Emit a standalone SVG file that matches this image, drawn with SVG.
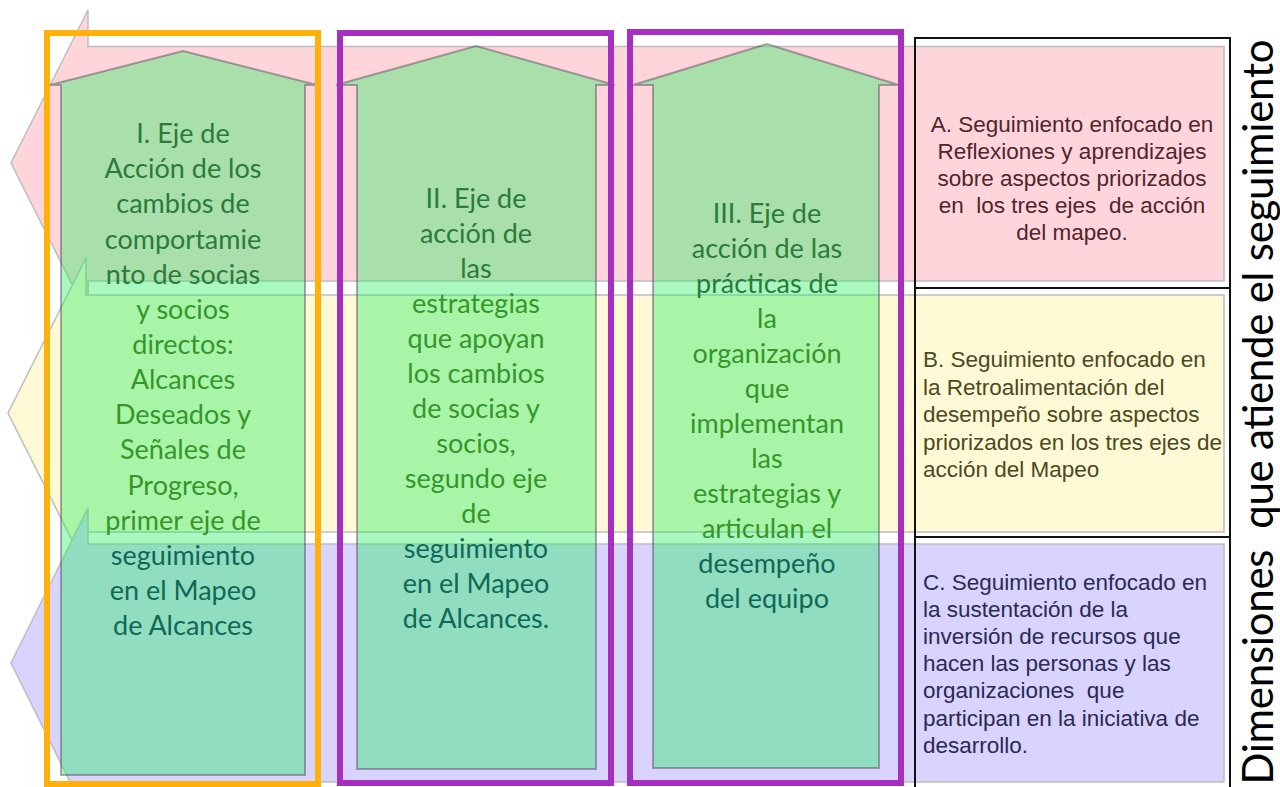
<svg xmlns="http://www.w3.org/2000/svg" width="1280" height="787" viewBox="0 0 1280 787">
<style>
.harrow{stroke:#bdbdbd;stroke-width:1.5;stroke-linejoin:miter}
.col{fill:rgb(37,237,97);fill-opacity:0.4;stroke:rgb(90,60,90);stroke-opacity:0.45;stroke-width:2}
.ct{font-family:Lato,"Open Sans","Liberation Sans",sans-serif;font-size:27px;text-anchor:middle}
.p{fill:#2b7b3a}
.y{fill:#36952c}
.v{fill:#0e6a56}
.frame{fill:none;stroke-width:6}
.bt{font-family:"Liberation Sans",Arial,sans-serif;font-size:22.5px;white-space:pre}
.box{fill:none;stroke:#111;stroke-width:2}
</style>
<rect width="1280" height="787" fill="#ffffff"/>
<g id="dimension-arrows">
<polygon id="arrow-A" class="harrow" fill="#ffd5dc" points="1224,46.5 88,46.5 88,10 11,163 88,316 88,281 1224,281"/>
<polygon id="arrow-B" class="harrow" fill="#fffad5" points="1224,295 86,295 86,258 8,413 86,568 86,532 1224,532"/>
<polygon id="arrow-C" class="harrow" fill="#d9d3ff" points="1224,544 88,544 88,508 11,663 88,818 88,782 1224,782"/>
</g>
<g id="box-A">
<rect class="box" x="915" y="38" width="315" height="250"/>
<text class="bt" text-anchor="middle" fill="#50252c"><tspan x="1072" y="132">A. Seguimiento enfocado en</tspan><tspan x="1072" y="159">Reflexiones y aprendizajes</tspan><tspan x="1072" y="186">sobre aspectos priorizados</tspan><tspan x="1072" y="213">en  los tres ejes  de acción</tspan><tspan x="1072" y="240">del mapeo.</tspan></text>
</g>
<g id="box-B">
<rect class="box" x="915" y="288" width="315" height="249"/>
<text class="bt" fill="#4a4a22"><tspan x="923" y="367">B. Seguimiento enfocado en</tspan><tspan x="923" y="394.5">la Retroalimentación del</tspan><tspan x="923" y="422">desempeño sobre aspectos</tspan><tspan x="923" y="449.5">priorizados en los tres ejes de</tspan><tspan x="923" y="477">acción del Mapeo</tspan></text>
</g>
<g id="box-C">
<rect class="box" x="915" y="537" width="315" height="255"/>
<text class="bt" fill="#2a2a52"><tspan x="923" y="590">C. Seguimiento enfocado en</tspan><tspan x="923" y="617">la sustentación de la</tspan><tspan x="923" y="644">inversión de recursos que</tspan><tspan x="923" y="671">hacen las personas y las</tspan><tspan x="923" y="698">organizaciones  que</tspan><tspan x="923" y="725.5">participan en la iniciativa de</tspan><tspan x="923" y="753">desarrollo.</tspan></text>
</g>
<g id="axis-I">
<polygon class="col" points="61,775 61,85 50,85 183,51 317,85 305,85 305,775"/>
<text class="ct"><tspan class="p" x="183" y="143">I. Eje de</tspan><tspan class="p" x="183" y="178">Acción de los</tspan><tspan class="p" x="183" y="213">cambios de</tspan><tspan class="p" x="183" y="248.5">comportamie</tspan><tspan class="p" x="183" y="283.5">nto de socias</tspan><tspan class="y" x="183" y="318.5">y socios</tspan><tspan class="y" x="183" y="354">directos:</tspan><tspan class="y" x="183" y="389">Alcances</tspan><tspan class="y" x="183" y="424">Deseados y</tspan><tspan class="y" x="183" y="459">Señales de</tspan><tspan class="y" x="183" y="494.5">Progreso,</tspan><tspan class="y" x="183" y="529.5">primer eje de</tspan><tspan class="v" x="183" y="564.5">seguimiento</tspan><tspan class="v" x="183" y="600">en el Mapeo</tspan><tspan class="v" x="183" y="635">de Alcances</tspan></text>
</g>
<g id="axis-II">
<polygon class="col" points="357,769 357,85 336,85 476,46 615,85 596,85 596,769"/>
<text class="ct"><tspan class="p" x="476" y="208">II. Eje de</tspan><tspan class="p" x="476" y="243">acción de</tspan><tspan class="p" x="476" y="278">las</tspan><tspan class="y" x="476" y="313">estrategias</tspan><tspan class="y" x="476" y="348">que apoyan</tspan><tspan class="y" x="476" y="383">los cambios</tspan><tspan class="y" x="476" y="418">de socias y</tspan><tspan class="y" x="476" y="453">socios,</tspan><tspan class="y" x="476" y="488">segundo eje</tspan><tspan class="y" x="476" y="523">de</tspan><tspan class="v" x="476" y="558">seguimiento</tspan><tspan class="v" x="476" y="593">en el Mapeo</tspan><tspan class="v" x="476" y="628">de Alcances.</tspan></text>
</g>
<g id="axis-III">
<polygon class="col" points="653,768 653,85 633,85 767,44 899,85 879,85 879,768"/>
<text class="ct"><tspan class="p" x="767" y="223">III. Eje de</tspan><tspan class="p" x="767" y="258">acción de las</tspan><tspan class="p" x="767" y="293">prácticas de</tspan><tspan class="y" x="767" y="328">la</tspan><tspan class="y" x="767" y="363">organización</tspan><tspan class="y" x="767" y="398">que</tspan><tspan class="y" x="767" y="433">implementan</tspan><tspan class="y" x="767" y="468">las</tspan><tspan class="y" x="767" y="503">estrategias y</tspan><tspan class="y" x="767" y="538">articulan el</tspan><tspan class="v" x="767" y="573">desempeño</tspan><tspan class="v" x="767" y="608">del equipo</tspan></text>
</g>
<g id="frames">
<rect id="frame-I" class="frame" stroke="#ffb00a" x="47" y="33" width="271" height="751"/>
<rect id="frame-II" class="frame" stroke="#a72fbf" x="340" y="33" width="271" height="750"/>
<rect id="frame-III" class="frame" stroke="#a72fbf" x="630" y="32" width="271" height="751"/>
</g>
<g id="title">
<text transform="translate(1273,412) rotate(-90)" x="0" y="0" text-anchor="middle" font-family="Lato,'Open Sans','Liberation Sans',sans-serif" font-size="42" fill="#000" textLength="745" lengthAdjust="spacing" style="white-space:pre">Dimensiones  que atiende el seguimiento</text>
</g>
</svg>
